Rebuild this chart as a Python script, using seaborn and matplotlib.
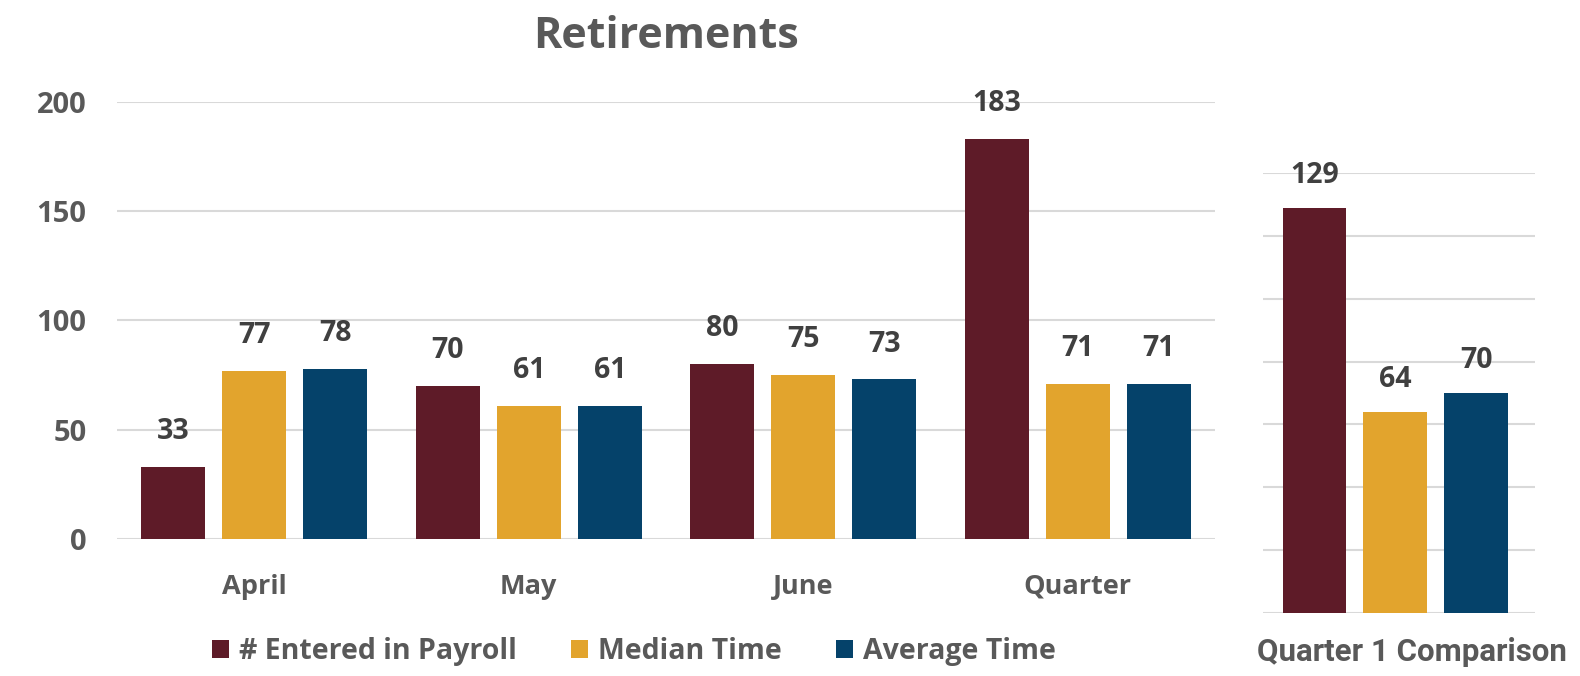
import matplotlib
matplotlib.use("Agg")
import matplotlib.pyplot as plt
import seaborn as sns
import pandas as pd
from matplotlib.patches import Patch

# ---- data ----
months = ["April", "May", "June", "Quarter"]
series = ["# Entered in Payroll", "Median Time", "Average Time"]
entered = [33, 70, 80, 183]
median_time = [77, 61, 75, 71]
average_time = [78, 61, 73, 71]
q1_values = [129, 64, 70]
main_yticks = [0, 50, 100, 150, 200]
q1_gridlines = [0, 20, 40, 60, 80, 100, 120, 140]

colors = ["#5E1B28", "#E2A42D", "#05426A"]
grid_c = "#D9D9D9"
tick_c = "#595959"
label_c = "#404040"

sns.set_theme(style="white")
plt.rcParams["font.family"] = ["Open Sans", "DejaVu Sans"]

df = pd.DataFrame({
    "month": months * 3,
    "series": [series[0]] * 4 + [series[1]] * 4 + [series[2]] * 4,
    "value": entered + median_time + average_time,
})
dq = pd.DataFrame({"series": series, "value": q1_values})

fig = plt.figure(figsize=(15.8, 6.76), dpi=100)
fig.patch.set_facecolor("white")

# ---- main chart ----
ax = fig.add_axes([0.0741, 0.2027, 0.6949, 0.6464])
sns.barplot(data=df, x="month", y="value", hue="series", order=months,
            hue_order=series, palette=colors, saturation=1, width=0.885, gap=0.21,
            linewidth=0, legend=False, ax=ax, zorder=3)
ax.set_xlim(-0.5, 3.5)
ax.set_ylim(0, 200)
ax.set_yticks(main_yticks)
ax.grid(axis="y", color=grid_c, linewidth=1.5, zorder=0)
ax.set_axisbelow(True)
for s in ax.spines.values():
    s.set_visible(False)
ax.set_xlabel("")
ax.set_ylabel("")
ax.tick_params(axis="y", length=0, pad=22, labelsize=21, labelcolor=tick_c)
ax.tick_params(axis="x", length=0, pad=25, labelsize=19.5, labelcolor=tick_c)
for t in ax.get_yticklabels() + ax.get_xticklabels():
    t.set_fontweight("bold")
for c in ax.containers:
    ax.bar_label(c, padding=15, fontsize=20.5, fontweight="bold", color=label_c)
ax.set_title("Retirements", fontsize=31, fontweight="bold", color=tick_c, pad=39)

# ---- Quarter 1 comparison ----
ax2 = fig.add_axes([0.7994, 0.0932, 0.1722, 0.6509])
sns.barplot(data=dq, x="series", y="value", hue="series", order=series,
            hue_order=series, palette=colors, saturation=1, width=0.79, linewidth=0,
            legend=False, ax=ax2, zorder=3)
ax2.set_xlim(-0.636, 2.73)
ax2.set_ylim(0, 140)
ax2.set_yticks(q1_gridlines)
ax2.grid(axis="y", color=grid_c, linewidth=1.5, zorder=0)
ax2.set_axisbelow(True)
for s in ax2.spines.values():
    s.set_visible(False)
ax2.set_xticks([])
ax2.set_yticklabels([])
ax2.tick_params(length=0)
ax2.set_xlabel("")
ax2.set_ylabel("")
for c in ax2.containers:
    ax2.bar_label(c, padding=13, fontsize=20.5, fontweight="bold", color=label_c)

fig.text(0.8935, 0.035, "Quarter 1 Comparison", ha="center", va="center",
         fontsize=22.5, fontweight="bold", color=tick_c, family=["Roboto", "DejaVu Sans"])

# ---- legend ----
handles = [Patch(facecolor=c, edgecolor="none") for c in colors]
leg = fig.legend(handles, series, loc="center", bbox_to_anchor=(0.401, 0.036),
                 ncol=3, frameon=False, handlelength=0.6, handleheight=0.6,
                 handletextpad=0.35, columnspacing=1.9,
                 prop={"size": 20.5, "weight": "bold"})
for t in leg.get_texts():
    t.set_color(tick_c)

fig.savefig("out.png", dpi=100, facecolor="white")
